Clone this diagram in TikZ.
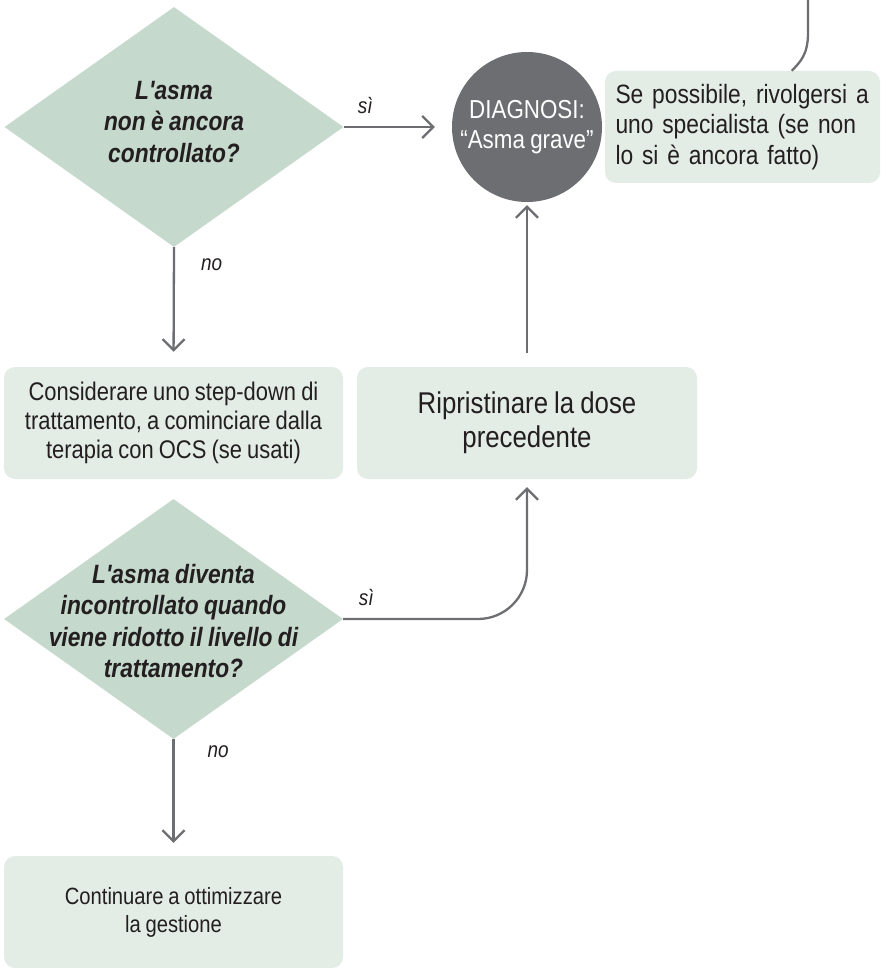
\documentclass[tikz,border=0pt]{standalone}
\usepackage{fontspec}
\setmainfont{Liberation Sans}[FakeStretch=0.86, WordSpace=0.85, Ligatures=TeXOff]
\usetikzlibrary{shapes.geometric,arrows.meta,calc}
\definecolor{dfill}{HTML}{C6D9CD}
\definecolor{bfill}{HTML}{E3ECE5}
\definecolor{cgray}{HTML}{6D6E71}
\definecolor{ink}{HTML}{231F20}
\begin{document}
\begin{tikzpicture}[x=1pt,y=-1pt,
  decision/.style={diamond, fill=dfill, minimum width=339pt, minimum height=240pt, inner sep=0pt},
  qtext/.style={align=center, text=ink, font=\bfseries\itshape\fontsize{26.5}{31.5}\selectfont, inner sep=0pt},
  infobox/.style={rectangle, rounded corners=11pt, fill=bfill, text=ink, align=center, font=\fontsize{25.5}{29}\selectfont, inner sep=0pt, minimum height=112pt},
  conn/.style={draw=cgray, line width=2.3pt, -{Straight Barb[length=11pt,width=22pt]}},
  plainline/.style={draw=cgray, line width=2.3pt},
  lbl/.style={text=ink, font=\itshape\fontsize{22}{26}\selectfont, inner sep=0pt}
]
\useasboundingbox (0,0) rectangle (881,968);

% decision 1
\node[decision] (d1) at (174,127) {};
\node[qtext] (d1t) at (174,122) {L'asma\\non è ancora\\controllato?};

% diagnosis circle
\node[circle, fill=cgray, minimum size=150pt, inner sep=0pt, text=white, align=center,
      font=\fontsize{26}{30}\selectfont] (dg) at (527,127) {DIAGNOSI:\\“Asma grave”};

% specialist box
\node[infobox, minimum width=275pt, text width=254pt, align=left, inner xsep=10.5pt,
      font=\fontsize{26.5}{30.5}\selectfont] (tr) at (742.5,127)
  {Se possibile, rivolgersi a\\uno specialista (se non\\lo si è ancora fatto)};

% step-down box
\node[infobox, minimum width=339pt] (c1) at (173.5,423)
  {Considerare uno step-down di\\trattamento, a cominciare dalla\\terapia con OCS (se usati)};

% restore box
\node[infobox, minimum width=340pt, font=\fontsize{30}{34}\selectfont] (r1) at (527,423)
  {Ripristinare la dose\\precedente};

% decision 2
\node[decision] (d2) at (173.5,619) {};
\node[qtext] (d2t) at (173.5,621) {L'asma diventa\\incontrollato quando\\viene ridotto il livello di\\trattamento?};

% continue box
\node[infobox, minimum width=339pt, font=\fontsize{23.5}{28}\selectfont] (c2) at (173.5,912)
  {Continuare a ottimizzare\\la gestione};

% connectors
\coordinate (tin) at (808,0);
\draw[plainline] (tin) -- (808,33) .. controls (808,55) and (800,62) .. ($(tr.north west)+(187,0)$);

\draw[conn, shorten >=17pt] (d1.east) -- node[lbl, pos=0.2, above=12pt]{sì} (dg.west);
\draw[conn, shorten >=15pt] (d1.south) -- node[lbl, pos=0.15, right=26pt]{no} (c1.north);
\draw[conn, shorten <=14pt, shorten >=3pt] (r1.north) -- (dg.south);
\draw[conn, rounded corners=49pt, shorten >=8pt] (d2.east) -| node[lbl, pos=0.0625, above=12pt]{sì} (r1.south);
\draw[conn, shorten >=13pt] (d2.south) -- node[lbl, pos=0.11, right=33pt]{no} (c2.north);
\end{tikzpicture}
\end{document}
